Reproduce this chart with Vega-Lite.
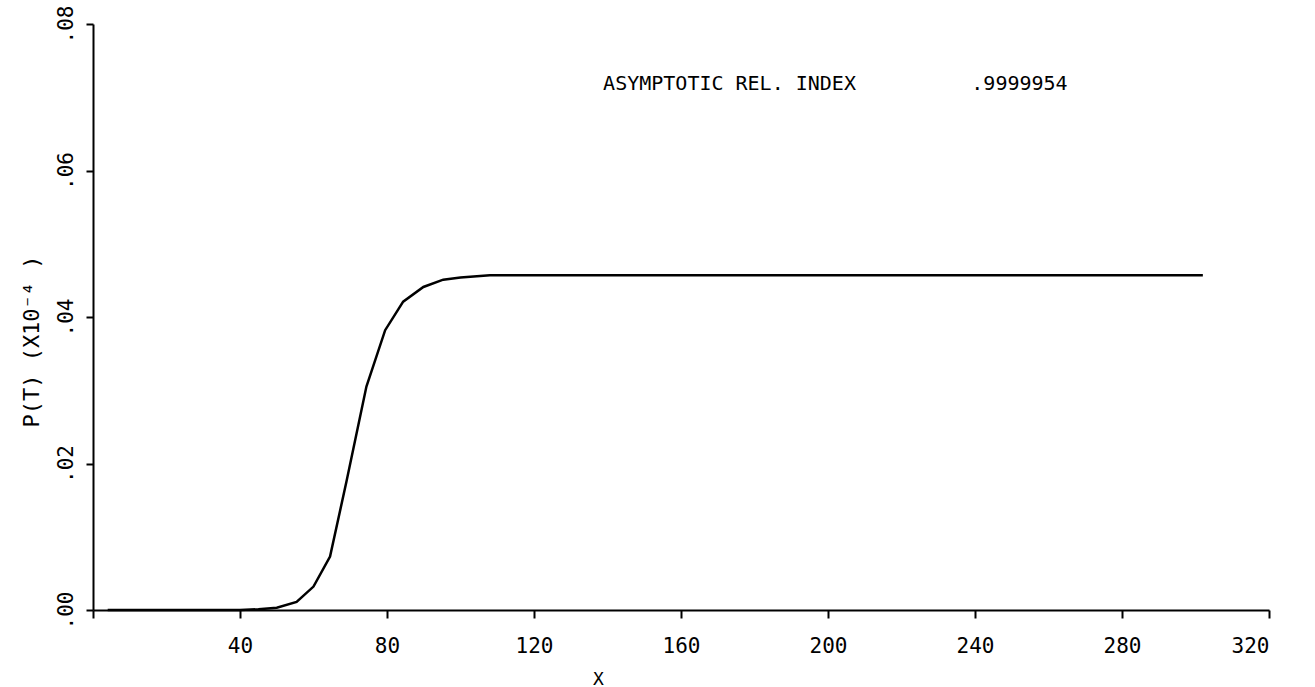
{
  "$schema": "https://vega.github.io/schema/vega-lite/v6.json",
  "autosize": {"type": "none"},
  "width": 1176,
  "height": 586,
  "padding": {"left": 93, "top": 24, "right": 46, "bottom": 77},
  "background": "white",
  "config": {
    "view": {"stroke": null},
    "axis": {"labelFont": "DejaVu Sans Mono", "titleFont": "DejaVu Sans Mono", "labelColor": "black", "titleColor": "black", "domainColor": "black", "tickColor": "black", "grid": false, "titleFontWeight": "normal"}
  },
  "layer": [
    {
      "data": {"values": [
        {"x": 4, "p": 0.0}, {"x": 10, "p": 0.0}, {"x": 20, "p": 0.0}, {"x": 30, "p": 0.0}, {"x": 40, "p": 0.0},
        {"x": 45, "p": 0.0001}, {"x": 50, "p": 0.0003}, {"x": 55.4, "p": 0.0011}, {"x": 60, "p": 0.0032},
        {"x": 64.5, "p": 0.0073}, {"x": 69, "p": 0.0176}, {"x": 74.4, "p": 0.0305}, {"x": 79.5, "p": 0.0382},
        {"x": 84.4, "p": 0.0421}, {"x": 89.9, "p": 0.0441}, {"x": 95.3, "p": 0.0451}, {"x": 100, "p": 0.0454},
        {"x": 108, "p": 0.0457}, {"x": 120, "p": 0.0457}, {"x": 140, "p": 0.0457}, {"x": 160, "p": 0.0457},
        {"x": 180, "p": 0.0457}, {"x": 200, "p": 0.0457}, {"x": 220, "p": 0.0457}, {"x": 240, "p": 0.0457},
        {"x": 260, "p": 0.0457}, {"x": 280, "p": 0.0457}, {"x": 302, "p": 0.0457}
      ]},
      "mark": {"type": "line", "color": "black", "strokeWidth": 2.5},
      "encoding": {
        "x": {"field": "x", "type": "quantitative", "scale": {"domain": [0, 320], "nice": false, "zero": false},
          "axis": {"values": [0, 40, 80, 120, 160, 200, 240, 280, 320], "title": "X", "labelFontSize": 21, "titleFontSize": 18, "labelPadding": 17, "tickSize": 8, "tickWidth": 2, "domainWidth": 2, "titlePadding": 14, "titleX": 505,
            "labelExpr": "datum.value == 0 ? '' : datum.label"}},
        "y": {"field": "p", "type": "quantitative", "scale": {"domain": [0, 0.08], "nice": false},
          "axis": {"values": [0, 0.02, 0.04, 0.06, 0.08], "title": "P(T) (X10⁻⁴   )", "labelFontSize": 21, "titleFontSize": 22, "labelAngle": -90, "labelAlign": "center", "labelBaseline": "bottom", "labelPadding": 10, "tickSize": 7, "tickWidth": 2, "domainWidth": 2, "titlePadding": 12, "titleY": 317,
            "labelExpr": "replace(format(datum.value, '.2f'), '0.', '.')"}}
      }
    },
    {
      "data": {"values": [
        {"x": 138.8, "p": 0.0718, "t": "ASYMPTOTIC REL. INDEX"},
        {"x": 239, "p": 0.0718, "t": ".9999954"}
      ]},
      "mark": {"type": "text", "align": "left", "baseline": "middle", "font": "DejaVu Sans Mono", "fontSize": 20, "color": "black"},
      "encoding": {
        "x": {"field": "x", "type": "quantitative"},
        "y": {"field": "p", "type": "quantitative"},
        "text": {"field": "t"}
      }
    }
  ]
}
